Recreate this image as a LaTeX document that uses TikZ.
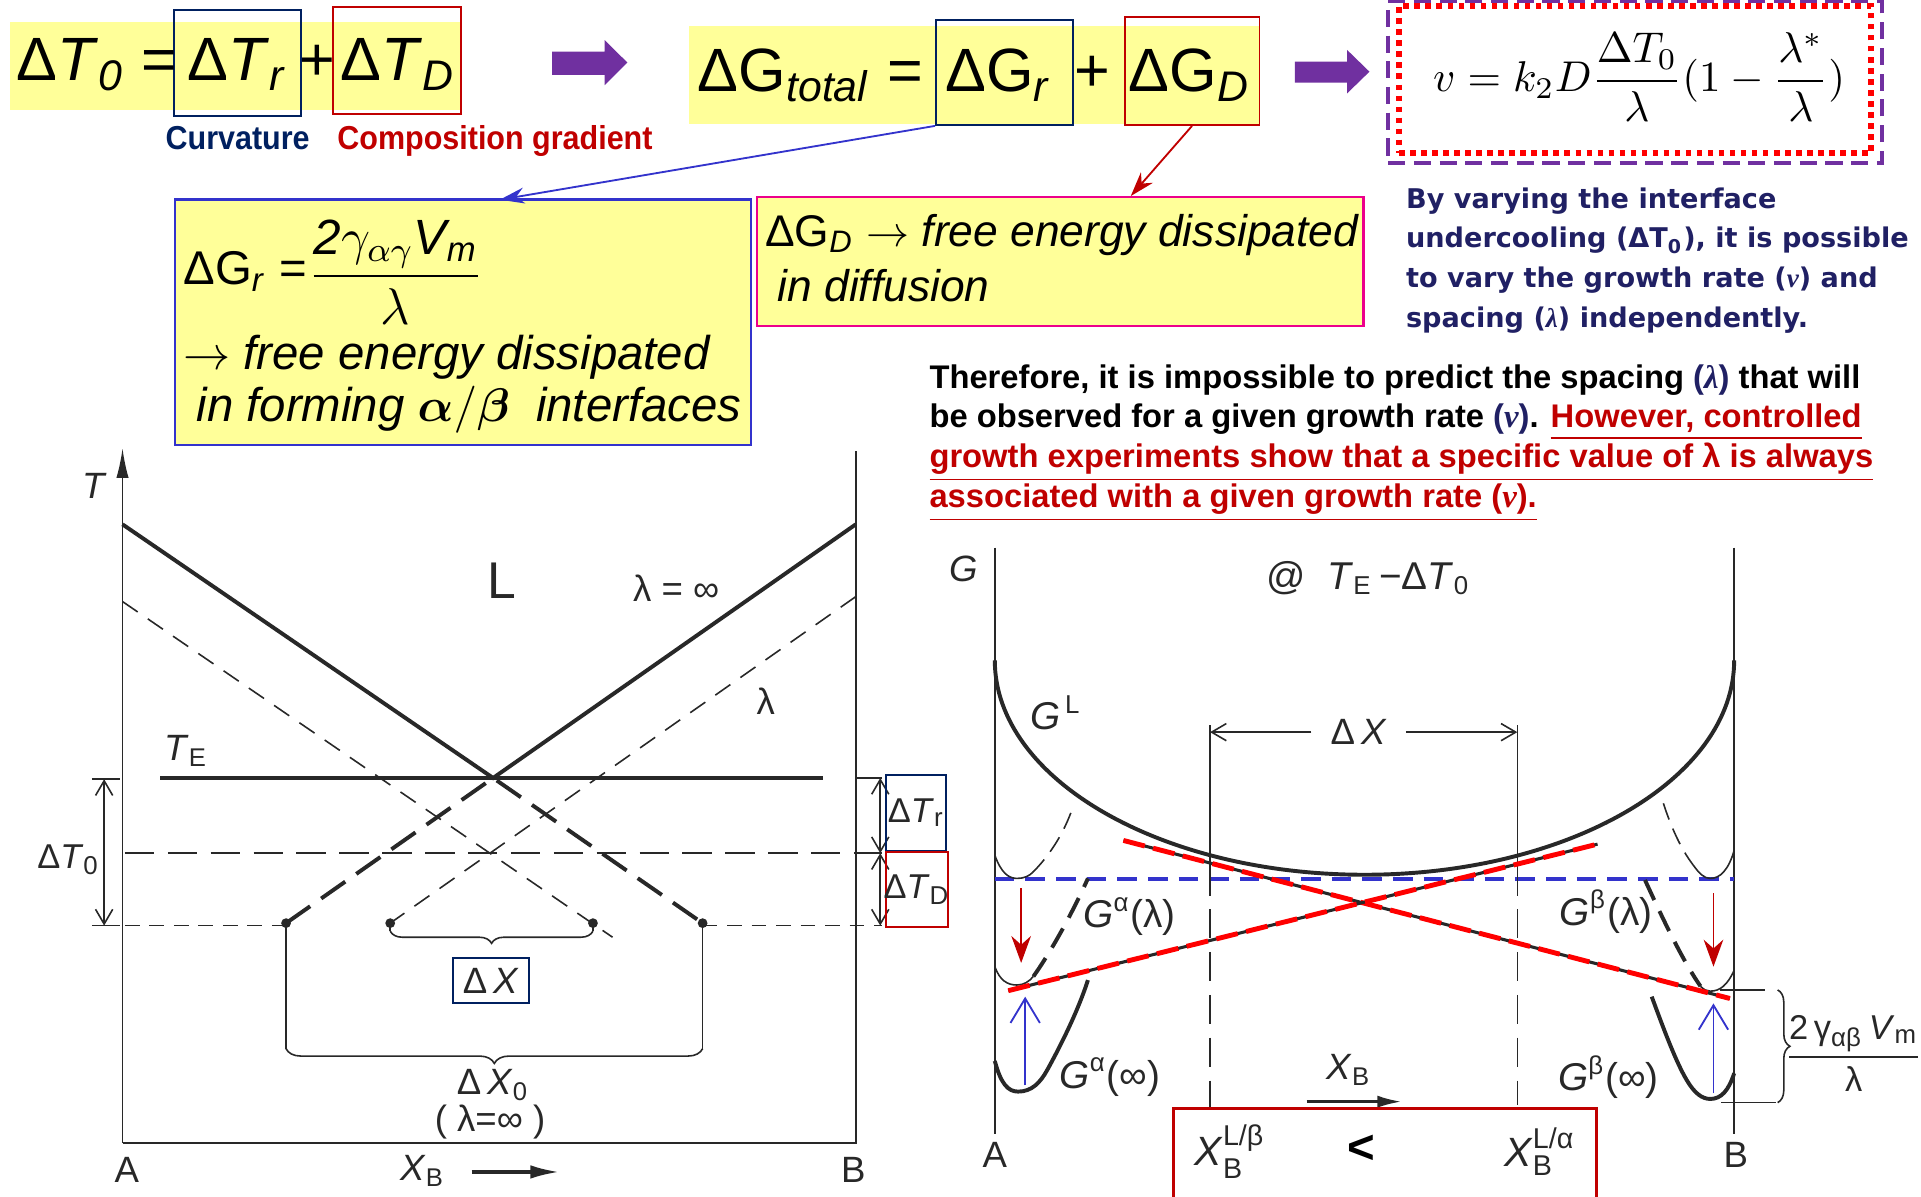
\documentclass[tikz,border=0pt]{standalone}
\usepackage{amsmath,amssymb}
\usepackage{fontspec}
\setmainfont{Liberation Sans}
\newfontfamily\condfont[FakeStretch=0.92]{Liberation Sans}
\newfontfamily\wideboldfont{DejaVu Sans}
\newfontfamily\serifit{Liberation Serif}
\usetikzlibrary{arrows.meta, positioning, calc, fit, decorations.pathreplacing}
\definecolor{slideyellow}{RGB}{255,255,153}
\definecolor{navyblue}{RGB}{0,32,96}
\definecolor{darkred}{RGB}{192,0,0}
\definecolor{linkblue}{RGB}{51,51,204}
\definecolor{slidepurple}{RGB}{112,48,160}
\definecolor{inkgray}{RGB}{40,40,40}
\definecolor{textnavy}{RGB}{32,32,100}
\definecolor{tanred}{RGB}{255,0,0}

\tikzset{
  eqbox/.style={draw, inner sep=0pt, line width=0.15mm},
  bigeq/.style={inner sep=0pt, font=\fontsize{14.2}{17}\selectfont},
  remark/.style={inner sep=0pt, align=left, font=\fontsize{11}{12}\selectfont\itshape},
  thinink/.style={inkgray, line width=0.13mm},
  thickink/.style={inkgray, line width=0.32mm},
  plotlbl/.style={inner sep=0pt, text=inkgray, font=\fontsize{8.5}{10}\selectfont},
  longdash/.style={dash pattern=on 2.4mm off 1.1mm},
  shortdash/.style={dash pattern=on 1.2mm off 0.8mm},
  tangent/.style={tanred, line width=0.4mm, dash pattern=on 1.8mm off 0.7mm},
  barb/.style={-{Straight Barb[length=1.2mm,width=1.4mm]}}
}

\begin{document}
\begin{tikzpicture}[x=0.1mm, y=-0.1mm]
\useasboundingbox (0,0) rectangle (1568,977);

% undercooling
\fill[slideyellow] (8,18) rectangle (376,90);
\node[eqbox, navyblue, fit={(142,8) (246,95)}] (dtr) {};
\node[eqbox, darkred, fit={(272,6) (376,93)}] (dtd) {};
\node[bigeq, anchor=base west] (dt0) at (13,66) {Δ\textit{T}\textsubscript{\textit{0}} =};
\node[bigeq, anchor=base] (dtrtxt) at (194,66) {Δ\textit{T}\textsubscript{\textit{r}}};
\node[bigeq, anchor=base] (dtplus) at (259,66) {+};
\node[bigeq, anchor=base] (dtdtxt) at (325,66) {Δ\textit{T}\textsubscript{\textit{D}}};
\node[inner sep=0pt, anchor=base, text=navyblue, font=\condfont\fontsize{7.7}{9}\selectfont\bfseries] (curv) at (194,122) {Curvature};
\node[inner sep=0pt, anchor=base, text=darkred, font=\condfont\fontsize{7.7}{9}\selectfont\bfseries] (comp) at (404,122) {Composition gradient};
\fill[slidepurple] (450.6,42.2) -- (493.6,42.2) -- (493.6,32.7) -- (512,51) -- (493.6,69.4) -- (493.6,61.2) -- (450.6,61.2) -- cycle;

% free energy split
\fill[slideyellow] (562,21) rectangle (1028,101);
\node[eqbox, navyblue, fit={(764,16) (876,102)}] (dgr) {};
\node[eqbox, darkred, fit={(918,14) (1028,102)}] (dgd) {};
\node[bigeq, anchor=base west] (dgtot) at (569,75) {ΔG\textsubscript{\textit{total}} =};
\node[bigeq, anchor=base] (dgrtxt) at (815,75) {ΔG\textsubscript{\textit{r}}};
\node[bigeq, anchor=base] (dgplus) at (892,75) {+};
\node[bigeq, anchor=base] (dgdtxt) at (971,75) {ΔG\textsubscript{\textit{D}}};
\fill[slidepurple] (1057,50.3) -- (1099.6,50.3) -- (1099.6,40.8) -- (1117.8,58.5) -- (1099.6,76.2) -- (1099.6,67.5) -- (1057,67.5) -- cycle;

% growth rate
\node[fit={(1133,1) (1536,133)}, inner sep=0pt, draw=slidepurple, line width=0.35mm, dash pattern=on 1.4mm off 0.7mm] (ratebox) {};
\node[fit={(1142,5) (1527,125)}, inner sep=0pt, draw=tanred, line width=0.45mm, dash pattern=on 0.45mm off 0.45mm] (rateinner) {};
\node[inner sep=0pt, font=\fontsize{10.2}{12}\selectfont] (rateeq) at (1338,63) {$v = k_2 D\dfrac{\Delta T_0}{\lambda}(1-\dfrac{\lambda^{*}}{\lambda})$};
\node[inner sep=0pt, anchor=base west, align=left, text=textnavy, font=\wideboldfont\bfseries\fontsize{6.3}{9.2}\selectfont] (varytxt) at (1147,267) {By varying the interface\\undercooling (ΔT\textsubscript{0}), it is possible\\to vary the growth rate ({\serifit\itshape v}) and\\spacing ({\serifit\itshape λ}) independently.};

% explanations
\node[fit={(143,163) (613,363)}, inner sep=0pt, fill=slideyellow, draw=linkblue, line width=0.2mm] (grbox) {};
\node[fit={(618,161) (1113,266)}, inner sep=0pt, fill=slideyellow, draw=magenta, line width=0.2mm] (gdbox) {};
\node[inner sep=0pt, anchor=base west, font=\fontsize{11}{13}\selectfont] (grlhs) at (149,232) {ΔG\textsubscript{\textit{r}} =};
\node[inner sep=0pt, font=\fontsize{11.5}{13}\selectfont] (grfrac) at (323,222) {$\dfrac{\text{\itshape 2}\gamma_{\alpha\gamma}\text{\itshape V}_{\text{\itshape m}}}{\lambda}$};
\node[remark, anchor=base west] (grnote) at (149,344) {$\rightarrow$ free energy dissipated\\\ in forming $\boldsymbol{\alpha}/\boldsymbol{\beta}$\ \ interfaces};
\node[remark, anchor=base west, font=\fontsize{10.3}{12.8}\selectfont\itshape] (gdnote) at (624,246) {\upshape ΔG\textsubscript{\textit{D}} $\rightarrow$ \itshape free energy dissipated\\\ in diffusion};
\coordinate (grtip) at (408,163);
\coordinate (gdtip) at (923,160);
\draw[linkblue, line width=0.15mm, -{Stealth[length=2mm,width=1.3mm]}] (dgr.south west) -- (grtip);
\draw[darkred, line width=0.15mm, -{Stealth[length=2mm,width=1.3mm]}] (dgd.south) -- (gdtip);

\node[inner sep=0pt, anchor=base west, align=left, font=\bfseries\fontsize{7.6}{9.2}\selectfont] (thereforetxt) at (758,414) {Therefore, it is impossible to predict the spacing {\color{textnavy}({\serifit\itshape λ})} that will\\be observed for a given growth rate {\color{textnavy}({\serifit\itshape v})}. \textcolor{darkred}{\underline{However, controlled}}\\\textcolor{darkred}{\underline{growth experiments show that a specific value of λ is always}}\\\textcolor{darkred}{\underline{associated with a given growth rate ({\serifit\itshape v}).}}};

% T-X diagram
\draw[thinink, -{Latex[length=2.4mm,width=1mm]}] (100,933) -- (100,366);
\draw[thinink] (100,933) -- (698.5,933) -- (698.5,368);
\draw[thickink] (100,428) -- (402.5,635) -- (698.5,428);
\draw[thickink] (131,635) -- (672,635);
\draw[thinink, dash pattern=on 1.5mm off 1mm] (100,491) -- (500,765);
\draw[thinink, dash pattern=on 1.5mm off 1mm] (698.5,487) -- (318.5,753.5);
\draw[thickink, longdash] (233.5,753.5) -- (402.5,635) -- (573.5,753.5);
\draw[thinink, line width=0.18mm, longdash] (102,696.4) -- (720,696.4);
\draw[thinink, shortdash] (102,755.5) -- (233.5,755.5);
\draw[thinink, shortdash] (573.5,755.5) -- (720,755.5);
\foreach \px in {233.5,318.5,484,573.5}
  \fill[inkgray] (\px,753.5) circle (0.4mm);
\draw[thinink] (75,636) -- (98,636);
\draw[thinink] (75,755.5) -- (98,755.5);
\draw[thinink, {Straight Barb[length=1.2mm,width=1.4mm]}-{Straight Barb[length=1.2mm,width=1.4mm]}] (85,636) -- (85,755.5);
\draw[thinink] (698.5,635) -- (720,635);
\draw[thinink, {Straight Barb[length=1.2mm,width=1.4mm]}-{Straight Barb[length=1.2mm,width=1.4mm]}] (718.5,635) -- (718.5,696.4);
\draw[thinink, {Straight Barb[length=1.2mm,width=1.4mm]}-{Straight Barb[length=1.2mm,width=1.4mm]}] (718.5,696.4) -- (718.5,755.5);
\node[eqbox, navyblue, fit={(723.5,632.5) (772.5,694.4)}] (dtrsmall) {};
\node[eqbox, darkred, fit={(723.5,695.2) (773.5,756.7)}] (dtdsmall) {};
\node[plotlbl, font=\fontsize{8}{10}\selectfont] (dtrlab) at (dtrsmall.center) {Δ\textit{T}\textsubscript{r}};
\node[plotlbl, font=\fontsize{8}{10}\selectfont] (dtdlab) at (dtdsmall.center) {Δ\textit{T}\textsubscript{D}};
\draw[thinink] (318.5,753.5) -- (318.5,760);
\draw[thinink] (484,753.5) -- (484,760);
\draw[thinink, decorate, decoration={brace, mirror, amplitude=1mm}] (318.5,760) -- (484,760);
\draw[thinink] (233.5,753.5) -- (233.5,856);
\draw[thinink] (573.5,753.5) -- (573.5,856);
\draw[thinink, decorate, decoration={brace, mirror, amplitude=1.2mm}] (233.5,856) -- (573.5,856);
\node[eqbox, navyblue, fit={(370,782) (431.5,818.6)}] (dxbox) {};
\node[plotlbl] (dxlab) at (dxbox.center) {Δ\,\textit{X}};
\node[plotlbl] (dx0lab) at (402.5,886) {Δ\,\textit{X}\textsubscript{0}};
\node[plotlbl] (laminf) at (400,916) {( λ=∞ )};
\node[plotlbl] (tlab) at (77.5,397) {\textit{T}};
\node[plotlbl, font=\fontsize{12}{14}\selectfont] (llab) at (410,474) {L};
\node[plotlbl] (laminftop) at (552,480) {λ = ∞};
\node[plotlbl] (lamlab) at (625,572) {λ};
\node[plotlbl] (telab) at (152,613) {\textit{T}\textsubscript{E}};
\node[plotlbl, font=\fontsize{8}{10}\selectfont] (dt0lab) at (56,702) {Δ\textit{T}\textsubscript{0}};
\node[plotlbl] (alab) at (103.5,955) {A};
\node[plotlbl] (blab) at (696.5,955) {B};
\node[plotlbl] (xblab) at (345,956) {\textit{X}\textsubscript{B}};
\draw[inkgray, line width=0.3mm, -{Latex[length=2.4mm,width=1.1mm]}] (385,956.6) -- (457,956.6);

% G-X diagram
\draw[thinink] (812,447) -- (812,926);
\draw[thinink] (1415.5,447) -- (1415.5,926);
\draw[thickink] (812,539) arc[start angle=180, end angle=0, x radius=301.75, y radius=175];
\draw[linkblue, line width=0.3mm, dash pattern=on 1.6mm off 0.9mm] (812,717.6) -- (1415.5,717.6);
\draw[thinink] (987.7,592) -- (987.7,707);
\draw[thinink, longdash] (987.7,707) -- (987.7,908);
\draw[thinink] (1238.5,592) -- (1238.5,707);
\draw[thinink, longdash] (1238.5,707) -- (1238.5,902);
\node[plotlbl] (dxgap) at (1109,597.6) {Δ\,\textit{X}};
\draw[thinink, barb] (dxgap.west) ++(-1.5mm,0) -- (987.7,597.6);
\draw[thinink, barb] (dxgap.east) ++(1.5mm,0) -- (1238.5,597.6);
\draw[thinink] (812,698) .. controls (817,712) and (823,717) .. (830,717) .. controls (836,717) and (840,715) .. (843,712);
\draw[thinink, dash pattern=on 1.4mm off 0.8mm] (843,712) .. controls (855,700) and (868,682) .. (876,658);
\draw[thinink] (812,789) .. controls (816,800) and (822,804) .. (830,804) .. controls (836,804) and (840,801) .. (843.5,797);
\draw[thickink, dash pattern=on 1.8mm off 1mm] (843.5,797) .. controls (857,778) and (874,748) .. (888,717);
\draw[thickink] (812,866) .. controls (817,885) and (823,891) .. (831,891) .. controls (842,891) and (849,884) .. (855,873) .. controls (866,853) and (880,825) .. (888,800);
\draw[thinink, dash pattern=on 1.4mm off 0.8mm] (1357.7,655.7) .. controls (1364,675) and (1372,693) .. (1382,706);
\draw[thinink] (1382,706) .. controls (1387,713) and (1391,717) .. (1396,717) .. controls (1404,717) and (1411,710) .. (1415.5,694);
\draw[thickink, dash pattern=on 1.8mm off 1mm] (1342.7,718.3) .. controls (1355,745) and (1372,782) .. (1388,805);
\draw[thinink] (1388,805) .. controls (1391,808) and (1393,809) .. (1396,809) .. controls (1404,809) and (1410,804) .. (1415.5,792);
\draw[thickink] (1348.2,813.5) .. controls (1358,840) and (1368,867) .. (1377,882) .. controls (1383,892) and (1389,897) .. (1396,897) .. controls (1405,897) and (1411,890) .. (1415.5,876);
\draw[inkgray, line width=0.25mm] (917,686) -- (1412,815);
\draw[tangent] (917,686) -- (1412,815);
\draw[inkgray, line width=0.25mm] (823,808.6) -- (1304,689);
\draw[tangent] (823,808.6) -- (1304,689);
\draw[darkred, line width=0.15mm, -{Stealth[length=2.2mm,width=1.6mm]}] (833.5,725) -- (833.5,786);
\draw[darkred, line width=0.15mm, -{Stealth[length=2.2mm,width=1.6mm]}] (1398.6,729) -- (1398.6,789);
\draw[linkblue, line width=0.15mm, -{Straight Barb[length=2mm,width=2.4mm]}] (836.8,886) -- (836.8,813.5);
\draw[linkblue, line width=0.15mm, -{Straight Barb[length=2mm,width=2.4mm]}] (1398.6,892.5) -- (1398.6,819);
\draw[thinink] (1404,808) -- (1441,808);
\draw[thinink] (1405,900) -- (1450,900);
\draw[thinink, decorate, decoration={brace, amplitude=1mm}] (1451,808) -- (1451,900);
\node[plotlbl, font=\fontsize{8}{10}\selectfont] (gamfrac) at (1513,860) {$\dfrac{\text{2\,γ\textsubscript{αβ}\,\textit{V}\textsubscript{m}}}{\text{λ}}$};
\node[plotlbl] (glab) at (786.7,464) {\textit{G}};
\node[plotlbl, font=\fontsize{9}{10}\selectfont] (atlab) at (1117,472) {@\ \ \textit{T}\textsubscript{E}\,−Δ\textit{T}\textsubscript{0}};
\node[plotlbl, font=\fontsize{9}{10}\selectfont] (gllab) at (862,582) {\textit{G}\textsuperscript{\,L}};
\node[plotlbl, font=\fontsize{9}{10}\selectfont] (galam) at (922,748) {\textit{G}\textsuperscript{α}(λ)};
\node[plotlbl, font=\fontsize{9}{10}\selectfont] (gblam) at (1311,744) {\textit{G}\textsuperscript{β}(λ)};
\node[plotlbl, font=\fontsize{9}{10}\selectfont] (gainf) at (906,879) {\textit{G}\textsuperscript{α}(∞)};
\node[plotlbl, font=\fontsize{9}{10}\selectfont] (gbinf) at (1313,879) {\textit{G}\textsuperscript{β}(∞)};
\node[plotlbl] (xbgap) at (1101,873) {\textit{X}\textsubscript{B}};
\draw[inkgray, line width=0.25mm, -{Latex[length=2mm,width=1mm]}] (1066.6,899.2) -- (1144.2,899.2);
\node[plotlbl] (agx) at (812,943) {A};
\node[plotlbl] (bgx) at (1416.8,943) {B};
\node[fit={(957.7,904.7) (1303.3,990)}, draw=darkred, line width=0.2mm, inner sep=0pt] (xbox) {};
\node[plotlbl, font=\fontsize{9.5}{11}\selectfont] (xlb) at (1004,940) {$\text{\textit{X}}^{\text{L/β}}_{\text{B}}$};
\node[inner sep=0pt, font=\fontsize{11}{12}\selectfont\bfseries] (ltsym) at (1111.5,938) {<};
\node[plotlbl, font=\fontsize{9.5}{11}\selectfont] (xla) at (1257,940) {$\text{\textit{X}}^{\text{L/α}}_{\text{B}}$};
\end{tikzpicture}
\end{document}
